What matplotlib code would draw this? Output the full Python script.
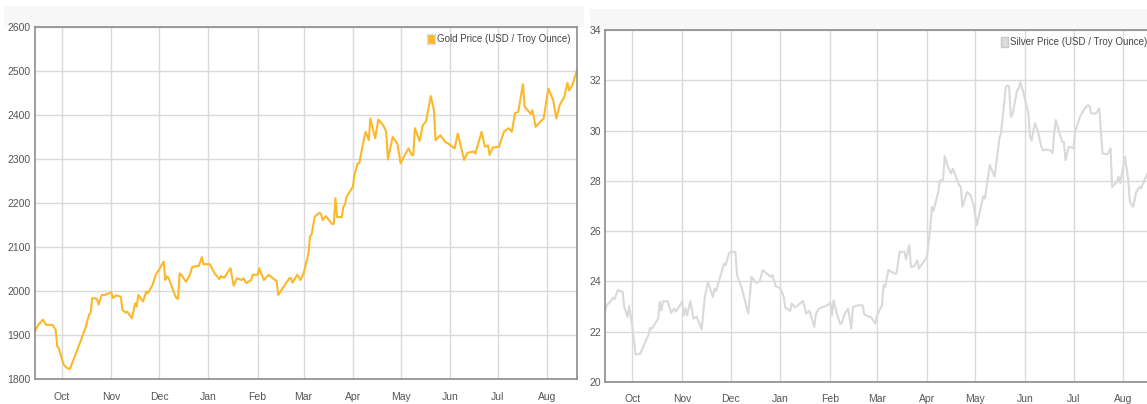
import matplotlib
matplotlib.use("Agg")
import matplotlib.pyplot as plt
import matplotlib.dates as mdates
from matplotlib.patches import Patch, Rectangle
import pandas as pd

plt.rcParams['font.family'] = ['Liberation Sans', 'DejaVu Sans']

# gold, USD / troy ounce
gold_dates = [
    "2023-09-14", "2023-09-16", "2023-09-19", "2023-09-21", "2023-09-25", "2023-09-27", "2023-09-28", "2023-09-29",
    "2023-10-02", "2023-10-04", "2023-10-06", "2023-10-09", "2023-10-13", "2023-10-16", "2023-10-18", "2023-10-19",
    "2023-10-20", "2023-10-23", "2023-10-24", "2023-10-26", "2023-10-28",
    "2023-11-01", "2023-11-02", "2023-11-04", "2023-11-07", "2023-11-08", "2023-11-10", "2023-11-11", "2023-11-14",
    "2023-11-16", "2023-11-17", "2023-11-18", "2023-11-21", "2023-11-23", "2023-11-24", "2023-11-27", "2023-11-29",
    "2023-12-01", "2023-12-04", "2023-12-05", "2023-12-06", "2023-12-07", "2023-12-11", "2023-12-12", "2023-12-13",
    "2023-12-14", "2023-12-15", "2023-12-18", "2023-12-20", "2023-12-22", "2023-12-26", "2023-12-28", "2023-12-29",
    "2024-01-02", "2024-01-05", "2024-01-08", "2024-01-09", "2024-01-11", "2024-01-15", "2024-01-17", "2024-01-19",
    "2024-01-22", "2024-01-23", "2024-01-25", "2024-01-28", "2024-01-29",
    "2024-02-01", "2024-02-02", "2024-02-05", "2024-02-08", "2024-02-12", "2024-02-13", "2024-02-14", "2024-02-17",
    "2024-02-21", "2024-02-22", "2024-02-23", "2024-02-26", "2024-02-28",
    "2024-03-01", "2024-03-04", "2024-03-05", "2024-03-06", "2024-03-08", "2024-03-11", "2024-03-12", "2024-03-13",
    "2024-03-15", "2024-03-19", "2024-03-20", "2024-03-21", "2024-03-22", "2024-03-25", "2024-03-26", "2024-03-27",
    "2024-03-28",
    "2024-04-01", "2024-04-02", "2024-04-04", "2024-04-05", "2024-04-07", "2024-04-09", "2024-04-11", "2024-04-12",
    "2024-04-15", "2024-04-17", "2024-04-20", "2024-04-22", "2024-04-23", "2024-04-26", "2024-04-29",
    "2024-05-01", "2024-05-03", "2024-05-06", "2024-05-08", "2024-05-09", "2024-05-10", "2024-05-13", "2024-05-15",
    "2024-05-17", "2024-05-20", "2024-05-22", "2024-05-23", "2024-05-26", "2024-05-29", "2024-05-31",
    "2024-06-04", "2024-06-06", "2024-06-10", "2024-06-12", "2024-06-16", "2024-06-17", "2024-06-21", "2024-06-23",
    "2024-06-25", "2024-06-26", "2024-06-28",
    "2024-07-02", "2024-07-05", "2024-07-08", "2024-07-10", "2024-07-12", "2024-07-14", "2024-07-17", "2024-07-18",
    "2024-07-22", "2024-07-23", "2024-07-25", "2024-07-28", "2024-07-30",
    "2024-08-02", "2024-08-05", "2024-08-07", "2024-08-09", "2024-08-12", "2024-08-14", "2024-08-15", "2024-08-17",
    "2024-08-20",
]
gold_prices = [
    1908, 1923, 1935, 1923, 1923, 1912, 1874, 1870,
    1833, 1825, 1823, 1851, 1889, 1919, 1946, 1950,
    1984, 1982, 1969, 1991, 1991,
    1997, 1984, 1990, 1987, 1957, 1951, 1953, 1938,
    1972, 1965, 1991, 1976, 1999, 1995, 2014, 2037,
    2048, 2067, 2025, 2033, 2030, 1991, 1984, 1982,
    2040, 2037, 2021, 2033, 2055, 2057, 2077, 2061,
    2061, 2040, 2027, 2034, 2030, 2052, 2012, 2029,
    2025, 2029, 2018, 2025, 2037,
    2037, 2052, 2025, 2037, 2025, 2023, 1991, 2007,
    2029, 2029, 2019, 2037, 2025,
    2040, 2084, 2124, 2128, 2169, 2178, 2175, 2161,
    2170, 2152, 2153, 2211, 2168, 2168, 2192, 2196,
    2214,
    2237, 2264, 2290, 2290, 2328, 2362, 2343, 2392,
    2347, 2390, 2377, 2362, 2299, 2350, 2335,
    2290, 2305, 2324, 2309, 2309, 2370, 2341, 2377,
    2385, 2443, 2411, 2343, 2354, 2339, 2335,
    2324, 2358, 2298, 2314, 2317, 2312, 2362, 2328,
    2331, 2309, 2326,
    2328, 2362, 2370, 2362, 2404, 2407, 2470, 2419,
    2402, 2411, 2373, 2385, 2392,
    2460, 2434, 2392, 2422, 2441, 2473, 2456, 2467,
    2502,
]

# silver, USD / troy ounce
silver_dates = [
    "2023-09-14", "2023-09-15", "2023-09-18", "2023-09-19", "2023-09-20", "2023-09-22", "2023-09-25", "2023-09-26",
    "2023-09-28", "2023-09-29",
    "2023-10-01", "2023-10-03", "2023-10-06", "2023-10-09", "2023-10-11", "2023-10-12", "2023-10-13", "2023-10-17",
    "2023-10-18", "2023-10-19", "2023-10-20", "2023-10-23", "2023-10-25", "2023-10-27", "2023-10-28",
    "2023-11-01", "2023-11-02", "2023-11-03", "2023-11-04", "2023-11-06", "2023-11-08", "2023-11-10", "2023-11-13",
    "2023-11-15", "2023-11-17", "2023-11-20", "2023-11-21", "2023-11-22", "2023-11-24", "2023-11-27", "2023-11-28",
    "2023-11-30",
    "2023-12-01", "2023-12-04", "2023-12-05", "2023-12-08", "2023-12-11", "2023-12-12", "2023-12-14", "2023-12-17",
    "2023-12-19", "2023-12-21", "2023-12-26", "2023-12-27", "2023-12-29",
    "2024-01-01", "2024-01-03", "2024-01-04", "2024-01-07", "2024-01-08", "2024-01-10", "2024-01-15", "2024-01-17",
    "2024-01-19", "2024-01-22", "2024-01-23", "2024-01-25", "2024-01-30",
    "2024-02-01", "2024-02-02", "2024-02-03", "2024-02-05", "2024-02-07", "2024-02-08", "2024-02-10", "2024-02-12",
    "2024-02-14", "2024-02-15", "2024-02-18", "2024-02-21", "2024-02-22", "2024-02-25", "2024-02-26", "2024-02-29",
    "2024-03-01", "2024-03-04", "2024-03-05", "2024-03-06", "2024-03-08", "2024-03-12", "2024-03-13", "2024-03-15",
    "2024-03-18", "2024-03-19", "2024-03-21", "2024-03-22", "2024-03-24", "2024-03-26", "2024-03-27", "2024-03-29",
    "2024-04-01", "2024-04-03", "2024-04-04", "2024-04-05", "2024-04-08", "2024-04-09", "2024-04-11", "2024-04-12",
    "2024-04-14", "2024-04-16", "2024-04-17", "2024-04-21", "2024-04-22", "2024-04-23", "2024-04-26", "2024-04-28",
    "2024-04-30",
    "2024-05-02", "2024-05-04", "2024-05-06", "2024-05-07", "2024-05-10", "2024-05-13", "2024-05-14", "2024-05-16",
    "2024-05-17", "2024-05-20", "2024-05-21", "2024-05-22", "2024-05-23", "2024-05-24", "2024-05-27", "2024-05-28",
    "2024-05-29", "2024-05-31",
    "2024-06-03", "2024-06-04", "2024-06-05", "2024-06-07", "2024-06-09", "2024-06-11", "2024-06-12", "2024-06-14",
    "2024-06-17", "2024-06-18", "2024-06-19", "2024-06-20", "2024-06-22", "2024-06-24", "2024-06-25", "2024-06-26",
    "2024-06-28",
    "2024-07-01", "2024-07-02", "2024-07-05", "2024-07-08", "2024-07-10", "2024-07-11", "2024-07-12", "2024-07-15",
    "2024-07-17", "2024-07-19", "2024-07-22", "2024-07-24", "2024-07-25", "2024-07-28", "2024-07-29", "2024-07-30",
    "2024-08-02", "2024-08-04", "2024-08-05", "2024-08-07", "2024-08-09", "2024-08-11", "2024-08-12", "2024-08-14",
    "2024-08-16", "2024-08-20",
]
silver_prices = [
    22.79, 23.05, 23.25, 23.36, 23.30, 23.65, 23.58, 22.98,
    22.59, 23.01,
    22.19, 21.09, 21.13, 21.59, 21.86, 22.15, 22.12, 22.52,
    23.19, 22.85, 23.21, 23.21, 22.75, 22.92, 22.80,
    23.19, 22.65, 22.92, 22.65, 23.22, 22.52, 22.59, 22.09,
    23.38, 23.98, 23.38, 23.72, 23.62, 24.05, 24.71, 24.65,
    25.11,
    25.18, 25.18, 24.25, 23.72, 22.96, 22.72, 24.18, 23.94,
    24.00, 24.45, 24.18, 24.25, 23.81,
    23.72, 23.40, 22.96, 22.83, 23.12, 22.96, 23.22, 22.72,
    22.83, 22.19, 22.72, 22.92, 23.05,
    23.15, 22.65, 23.25, 22.72, 22.32, 22.32, 22.72, 22.92,
    22.12, 22.98, 23.05, 23.05, 22.69, 22.59, 22.60, 22.32,
    22.65, 23.05, 23.85, 23.78, 24.45, 24.31, 24.31, 25.18,
    25.18, 24.87, 25.44, 24.58, 24.60, 24.84, 24.51, 24.70,
    24.98, 26.10, 26.97, 26.80, 27.56, 28.00, 28.05, 28.98,
    28.56, 28.29, 28.49, 27.83, 27.76, 26.97, 27.56, 27.43,
    27.03,
    26.24, 26.83, 27.39, 27.30, 28.63, 28.16, 28.69, 29.69,
    29.90, 31.74, 31.80, 31.77, 30.55, 30.62, 31.61, 31.68,
    31.94, 31.48,
    30.68, 29.75, 29.60, 30.29, 29.95, 29.36, 29.21, 29.25,
    29.20, 29.10, 29.89, 30.42, 29.95, 29.55, 29.55, 28.82,
    29.36,
    29.30, 29.95, 30.55, 30.88, 31.01, 30.95, 30.68, 30.68,
    30.88, 29.09, 29.05, 29.29, 27.76, 27.96, 28.16, 27.90,
    28.96, 28.03, 27.17, 26.97, 27.56, 27.76, 27.70, 28.03,
    28.29, 28.60,
]

gold_ticks = [1800, 1900, 2000, 2100, 2200, 2300, 2400, 2500, 2600]
silver_ticks = [20, 22, 24, 26, 28, 30, 32, 34]

fig = plt.figure(figsize=(11.47, 4.04), dpi=100)
fig.patch.set_facecolor('white')

# faint header bands above each chart
fig.add_artist(Rectangle((4 / 1147, (404 - 27) / 404), 580 / 1147, 21 / 404,
                         transform=fig.transFigure, facecolor='#f7f7f7', edgecolor='none', zorder=0))
fig.add_artist(Rectangle((590 / 1147, (404 - 30) / 404), 557 / 1147, 21 / 404,
                         transform=fig.transFigure, facecolor='#f7f7f7', edgecolor='none', zorder=0))

ax1 = fig.add_axes([35 / 1147, 25 / 404, 542 / 1147, 352 / 404])
ax2 = fig.add_axes([605 / 1147, 22 / 404, 549 / 1147, 352 / 404])

x0 = pd.Timestamp("2023-09-14")
x1 = pd.Timestamp("2024-08-20")


def style(ax, ticks, label, color, edge):
    ax.set_xlim(x0, x1)
    ax.set_ylim(ticks[0], ticks[-1])
    ax.set_yticks(ticks)
    ax.xaxis.set_major_locator(mdates.MonthLocator())
    ax.xaxis.set_major_formatter(mdates.DateFormatter('%b'))
    ax.grid(True, color='#dadada', linewidth=1)
    ax.set_axisbelow(True)
    ax.tick_params(length=0, labelsize=7.5, labelcolor='#555555')
    ax.tick_params(axis='x', pad=9)
    ax.tick_params(axis='y', pad=3)
    for s in ax.spines.values():
        s.set_color('#8c8c8c')
        s.set_linewidth(1.2)
    ax.legend(handles=[Patch(facecolor=color, edgecolor=edge, label=label)],
              loc='upper right', frameon=False, fontsize=7, handlelength=0.8,
              handleheight=1.3, handletextpad=0.15, borderaxespad=0.3,
              labelcolor='#444444')


ax1.plot(pd.to_datetime(gold_dates), gold_prices, color='#fbb829', linewidth=1.5)
style(ax1, gold_ticks, 'Gold Price (USD / Troy Ounce)', '#fbb829', '#e0e0e0')

ax2.plot(pd.to_datetime(silver_dates), silver_prices, color='#d9d9d9', linewidth=1.5)
style(ax2, silver_ticks, 'Silver Price (USD / Troy Ounce)', '#dddddd', '#c8c8c8')

plt.savefig('out.png', dpi=100)
